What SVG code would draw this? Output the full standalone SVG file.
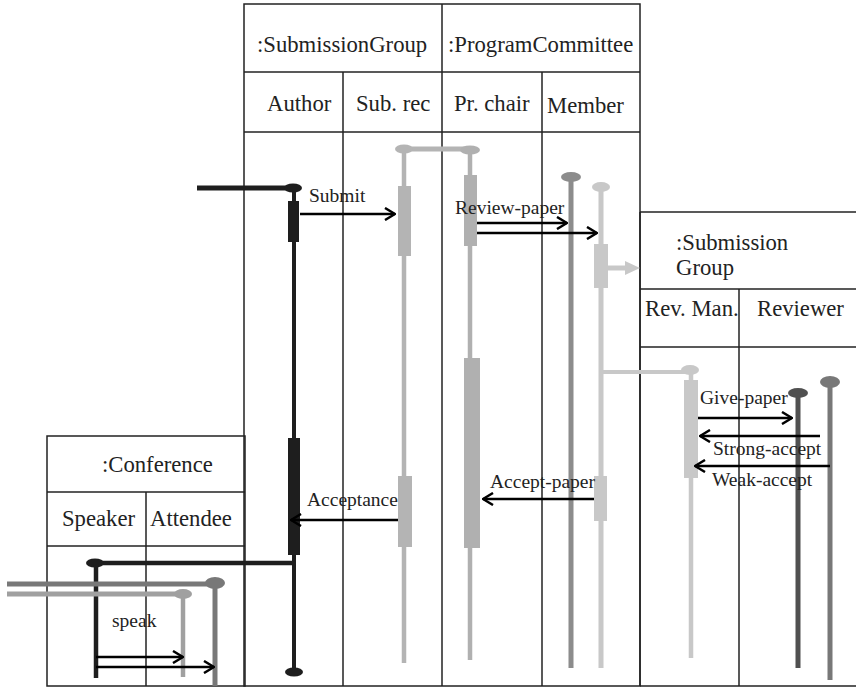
<svg xmlns="http://www.w3.org/2000/svg" width="856" height="688" viewBox="0 0 856 688">
<style>
.tb{fill:none;stroke:#222;stroke-width:1.5}
.t{font-family:'Liberation Serif','DejaVu Serif',serif;font-size:22.7px;fill:#222}
.m{font-family:'Liberation Serif','DejaVu Serif',serif;font-size:19.5px;fill:#222}
.msg{stroke:#000;stroke-width:2.5;fill:none;marker-end:url(#ah)}
</style>
<defs>
<marker id="ah" viewBox="0 0 12 14" refX="11" refY="7" markerWidth="12" markerHeight="14" markerUnits="userSpaceOnUse" orient="auto">
<path d="M1,1 L11,7 L1,13" fill="none" stroke="#000" stroke-width="2.5"/>
</marker>
</defs>
<rect width="856" height="688" fill="#fff"/>

<g id="node-main">
<rect class="tb" x="244" y="4" width="396" height="682"/>
<line class="tb" x1="244" y1="72" x2="640" y2="72"/>
<line class="tb" x1="244" y1="132" x2="640" y2="132"/>
<line class="tb" x1="442" y1="4" x2="442" y2="686"/>
<line class="tb" x1="343" y1="72" x2="343" y2="686"/>
<line class="tb" x1="542" y1="72" x2="542" y2="686"/>
<text class="t" x="257" y="52">:SubmissionGroup</text>
<text class="t" x="448" y="52">:ProgramCommittee</text>
<text class="t" x="267" y="111">Author</text>
<text class="t" x="356" y="111">Sub. rec</text>
<text class="t" x="454" y="111">Pr. chair</text>
<text class="t" x="547" y="113">Member</text>
</g>

<g id="node-review">
<line class="tb" x1="640" y1="212" x2="856" y2="212"/>
<line class="tb" x1="640" y1="212" x2="640" y2="686"/>
<line class="tb" x1="640" y1="289" x2="856" y2="289"/>
<line class="tb" x1="640" y1="347" x2="856" y2="347"/>
<line class="tb" x1="739" y1="289" x2="739" y2="686"/>
<line class="tb" x1="640" y1="686" x2="856" y2="686"/>
<text class="t" x="676" y="250">:Submission</text>
<text class="t" x="676" y="275">Group</text>
<text class="t" x="645" y="316">Rev. Man.</text>
<text class="t" x="757" y="316">Reviewer</text>
</g>

<g id="node-conference">
<rect class="tb" x="47" y="436" width="198" height="250"/>
<line class="tb" x1="47" y1="492" x2="245" y2="492"/>
<line class="tb" x1="47" y1="546" x2="245" y2="546"/>
<line class="tb" x1="146" y1="492" x2="146" y2="686"/>
<text class="t" x="102" y="472">:Conference</text>
<text class="t" x="62" y="526">Speaker</text>
<text class="t" x="150" y="526">Attendee</text>
</g>

<g id="lifeline-author" fill="#1e1e1e" stroke="#1e1e1e">
<line x1="197" y1="188" x2="294" y2="188" stroke-width="5"/>
<line x1="294" y1="188" x2="294" y2="670" stroke-width="4"/>
<ellipse cx="293" cy="188" rx="9" ry="4.5" stroke="none"/>
<ellipse cx="294" cy="672" rx="9" ry="4.5" stroke="none"/>
<rect x="288" y="201" width="11" height="41" stroke="none"/>
<rect x="288" y="438" width="12" height="117" stroke="none"/>
<line x1="95" y1="563" x2="294" y2="563" stroke-width="4.5"/>
</g>

<g id="lifeline-subrec" fill="#b4b4b4" stroke="#b4b4b4">
<line x1="404" y1="149" x2="470" y2="149" stroke-width="5"/>
<line x1="404" y1="146" x2="404" y2="663" stroke-width="4.5"/>
<ellipse cx="404" cy="149" rx="9" ry="4.5" stroke="none"/>
<rect x="398" y="186" width="13" height="70" stroke="none"/>
<rect x="398" y="476" width="14" height="71" stroke="none"/>
</g>

<g id="lifeline-prchair" fill="#b0b0b0" stroke="#b0b0b0">
<ellipse cx="470" cy="150" rx="10" ry="4.5" stroke="none"/>
<line x1="470" y1="150" x2="470" y2="660" stroke-width="4.5"/>
<rect x="464" y="175" width="13" height="71" stroke="none"/>
<rect x="464" y="358" width="16" height="190" stroke="none"/>
</g>

<g id="lifeline-member1" fill="#8c8c8c" stroke="#8c8c8c">
<ellipse cx="571" cy="177" rx="10" ry="5" stroke="none"/>
<line x1="571" y1="177" x2="571" y2="668" stroke-width="5"/>
</g>

<g id="lifeline-member2" fill="#c8c8c8" stroke="#c8c8c8">
<ellipse cx="601" cy="187" rx="9" ry="5" stroke="none"/>
<line x1="601" y1="187" x2="601" y2="668" stroke-width="5"/>
<rect x="594" y="244" width="14" height="44" stroke="none"/>
<rect x="594" y="476" width="13" height="45" stroke="none"/>
<line x1="608" y1="268" x2="626" y2="268" stroke-width="5"/>
<path d="M625,261 L640,268 L625,275 Z" stroke="none"/>
<line x1="601" y1="372" x2="690" y2="372" stroke-width="4"/>
</g>

<g id="lifeline-revman" fill="#c8c8c8" stroke="#c8c8c8">
<ellipse cx="690" cy="370" rx="9" ry="5" stroke="none"/>
<line x1="691" y1="370" x2="691" y2="658" stroke-width="4.5"/>
<rect x="684" y="380" width="14" height="98" stroke="none"/>
</g>

<g id="lifeline-reviewer1" fill="#505050" stroke="#505050">
<ellipse cx="798" cy="393" rx="10" ry="5" stroke="none"/>
<line x1="798" y1="393" x2="798" y2="668" stroke-width="5"/>
</g>

<g id="lifeline-reviewer2" fill="#787878" stroke="#787878">
<ellipse cx="830" cy="382" rx="10" ry="6" stroke="none"/>
<line x1="830" y1="382" x2="830" y2="680" stroke-width="5"/>
</g>

<g id="lifeline-speaker" fill="#1e1e1e" stroke="#1e1e1e">
<ellipse cx="95" cy="563" rx="9" ry="4.5" stroke="none"/>
<line x1="96" y1="563" x2="96" y2="678" stroke-width="4.5"/>
</g>

<g id="lifeline-attendee2" fill="#787878" stroke="#787878">
<line x1="7" y1="584" x2="215" y2="584" stroke-width="5"/>
<ellipse cx="215" cy="583" rx="10" ry="6" stroke="none"/>
<line x1="215" y1="583" x2="215" y2="686" stroke-width="5"/>
</g>

<g id="lifeline-attendee1" fill="#a0a0a0" stroke="#a0a0a0">
<line x1="7" y1="594" x2="183" y2="594" stroke-width="5"/>
<ellipse cx="183" cy="594" rx="9" ry="5" stroke="none"/>
<line x1="183" y1="594" x2="183" y2="677" stroke-width="4.5"/>
</g>

<g id="connectors">
<line class="msg" x1="300" y1="214" x2="395" y2="214"/>
<line class="msg" x1="477" y1="223" x2="567" y2="223"/>
<line class="msg" x1="477" y1="233" x2="597" y2="233"/>
<line class="msg" x1="398" y1="520" x2="291" y2="520"/>
<line class="msg" x1="594" y1="499" x2="483" y2="499"/>
<line class="msg" x1="698" y1="418" x2="792" y2="418"/>
<line class="msg" x1="820" y1="436" x2="700" y2="436"/>
<line class="msg" x1="830" y1="466" x2="695" y2="466"/>
<line class="msg" x1="96" y1="657" x2="183" y2="657"/>
<line class="msg" x1="96" y1="667" x2="214" y2="667"/>
<text class="m" x="309" y="202">Submit</text>
<text class="m" x="455" y="214">Review-paper</text>
<text class="m" x="307" y="506">Acceptance</text>
<text class="m" x="490" y="488">Accept-paper</text>
<text class="m" x="700" y="404">Give-paper</text>
<text class="m" x="713" y="455">Strong-accept</text>
<text class="m" x="712" y="486">Weak-accept</text>
<text class="m" x="112" y="627">speak</text>
</g>
</svg>
